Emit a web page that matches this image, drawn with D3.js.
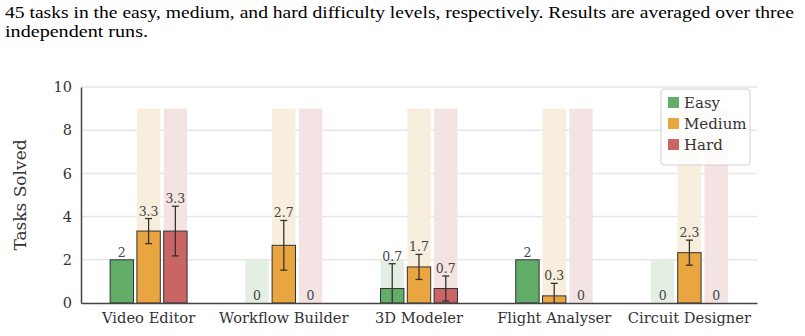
<!DOCTYPE html>
<html>
<head>
<meta charset="utf-8">
<script src="https://cdn.jsdelivr.net/npm/d3@7"></script>
<style>
  body { margin: 0; background: #fff; }
  svg { display: block; }
</style>
</head>
<body>
<svg></svg>
<script>
var categories = ["Video Editor", "Workflow Builder", "3D Modeler", "Flight Analyser", "Circuit Designer"];
var levels = ["Easy", "Medium", "Hard"];
var easy = [2, 0, 0.67, 2, 0];
var medium = [3.33, 2.67, 1.67, 0.33, 2.33];
var hard = [3.33, 0, 0.67, 0, 0];
var easyErr = [0, 0, 1.15, 0, 0];
var mediumErr = [0.58, 1.15, 0.58, 0.58, 0.58];
var hardErr = [1.15, 0, 0.58, 0, 0];
var totals = [2, 9, 9];
var yTicks = [0, 2, 4, 6, 8, 10];
var colors = ["#62ad68", "#e9a53f", "#c96565"];
var bgColors = ["#e4efe4", "#f8eedd", "#f3e3e3"];

var caption = [
    "45 tasks in the easy, medium, and hard difficulty levels, respectively. Results are averaged over three",
    "independent runs."
];
var captionWidths = [789, 143];

function drawChart() {
    var W = 805, H = 336;
    var margin = { top: 87, right: 48, bottom: 33, left: 81 };
    var size = { w: W - margin.left - margin.right, h: H - margin.top - margin.bottom };

    var svg = d3.select('svg').attr('width', W).attr('height', H);

    svg.selectAll('text.caption')
        .data(caption)
        .enter()
        .append('text')
        .attr('class', 'caption')
        .attr('x', 5)
        .attr('y', (d, i) => 18 + i * 19)
        .attr('font-family', 'Liberation Serif, Times New Roman, serif')
        .attr('font-size', 17.5)
        .attr('textLength', (d, i) => captionWidths[i])
        .attr('lengthAdjust', 'spacingAndGlyphs')
        .attr('fill', '#000')
        .text(d => d);

    var chart = svg.append('g')
        .attr('transform', 'translate(' + margin.left + ',' + margin.top + ')');

    var x = d3.scaleBand().domain(categories).range([0, size.w]).padding(0);
    var y = d3.scaleLinear().domain([0, 10]).range([size.h, 0]);

    var step = x.bandwidth() * 0.198;
    var bw = x.bandwidth() * 0.173;

    // grid
    chart.append('g')
        .selectAll('line')
        .data(yTicks.slice(1))
        .enter()
        .append('line')
        .attr('x1', 0).attr('x2', size.w)
        .attr('y1', d => y(d)).attr('y2', d => y(d))
        .attr('stroke', '#e6e6e6')
        .attr('stroke-width', 1.5);

    var series = [easy, medium, hard];
    var errs = [easyErr, mediumErr, hardErr];
    var rows = [];
    categories.forEach((c, ci) => {
        levels.forEach((l, li) => {
            rows.push({ cat: c, li: li, v: series[li][ci], e: errs[li][ci], total: totals[li] });
        });
    });
    var cx = d => x(d.cat) + x.bandwidth() / 2 + (d.li - 1) * step;

    // background bars (total tasks)
    chart.append('g')
        .selectAll('rect')
        .data(rows)
        .enter()
        .append('rect')
        .attr('x', d => cx(d) - bw / 2)
        .attr('y', d => y(d.total))
        .attr('width', bw)
        .attr('height', d => size.h - y(d.total))
        .attr('fill', d => bgColors[d.li]);

    // bars
    chart.append('g')
        .selectAll('rect')
        .data(rows.filter(d => d.v > 0))
        .enter()
        .append('rect')
        .attr('x', d => cx(d) - bw / 2)
        .attr('y', d => y(d.v))
        .attr('width', bw)
        .attr('height', d => size.h - y(d.v))
        .attr('fill', d => colors[d.li])
        .attr('stroke', '#333')
        .attr('stroke-width', 1);

    // error bars
    var clampY = v => y(Math.max(0, Math.min(10, v)));
    var eb = chart.append('g')
        .selectAll('g')
        .data(rows.filter(d => d.e > 0))
        .enter()
        .append('g')
        .attr('stroke', '#333')
        .attr('stroke-width', 1.3);
    eb.append('line')
        .attr('x1', cx).attr('x2', cx)
        .attr('y1', d => clampY(d.v - d.e))
        .attr('y2', d => clampY(d.v + d.e));
    eb.append('line')
        .attr('x1', d => cx(d) - 3.5).attr('x2', d => cx(d) + 3.5)
        .attr('y1', d => y(d.v + d.e)).attr('y2', d => y(d.v + d.e));
    eb.filter(d => d.v - d.e >= 0).append('line')
        .attr('x1', d => cx(d) - 3.5).attr('x2', d => cx(d) + 3.5)
        .attr('y1', d => y(d.v - d.e)).attr('y2', d => y(d.v - d.e));

    // value labels
    chart.append('g')
        .selectAll('text')
        .data(rows)
        .enter()
        .append('text')
        .attr('x', cx)
        .attr('y', d => y(d.v + d.e) - 3)
        .attr('text-anchor', 'middle')
        .attr('font-family', 'DejaVu Serif, serif')
        .attr('font-size', 12.5)
        .attr('fill', '#444')
        .text(d => String(+d.v.toFixed(1)));

    // axes
    var xAxis = d3.axisBottom(x).tickSize(0).tickPadding(10);
    var yAxis = d3.axisLeft(y).tickValues(yTicks).tickSize(0).tickPadding(9);

    var gx = chart.append('g')
        .attr('transform', `translate(0, ${size.h})`)
        .call(xAxis);
    var gy = chart.append('g').call(yAxis);

    [gx, gy].forEach(g => {
        g.select('.domain').attr('stroke', '#444').attr('stroke-width', 1.5);
        g.selectAll('text')
            .attr('font-family', 'DejaVu Serif, serif')
            .attr('fill', '#333');
    });
    gx.selectAll('text').attr('font-size', 14.7);
    gy.selectAll('text').attr('font-size', 14.5);

    chart.append('text')
        .attr('transform', `translate(${20 - margin.left}, ${size.h / 2}) rotate(-90)`)
        .attr('text-anchor', 'middle')
        .attr('dominant-baseline', 'central')
        .attr('font-family', 'DejaVu Serif, serif')
        .attr('font-size', 17)
        .attr('fill', '#333')
        .text('Tasks Solved');

    // legend
    var lg = chart.append('g').attr('transform', `translate(${661 - margin.left}, ${89 - margin.top})`);
    lg.append('rect')
        .attr('width', 89).attr('height', 76)
        .attr('rx', 3)
        .attr('fill', 'rgba(255,255,255,0.8)')
        .attr('stroke', '#d0d0d0');
    var item = lg.selectAll('g.item')
        .data(levels)
        .enter()
        .append('g')
        .attr('class', 'item')
        .attr('transform', (d, i) => `translate(7, ${13 + i * 21})`);
    item.append('rect')
        .attr('width', 11).attr('height', 11)
        .attr('y', -5)
        .attr('fill', (d, i) => colors[i]);
    item.append('text')
        .attr('x', 16)
        .attr('y', 1)
        .attr('dominant-baseline', 'central')
        .attr('font-family', 'DejaVu Serif, serif')
        .attr('font-size', 15)
        .attr('fill', '#333')
        .text(d => d);
}

drawChart();
</script>
</body>
</html>
